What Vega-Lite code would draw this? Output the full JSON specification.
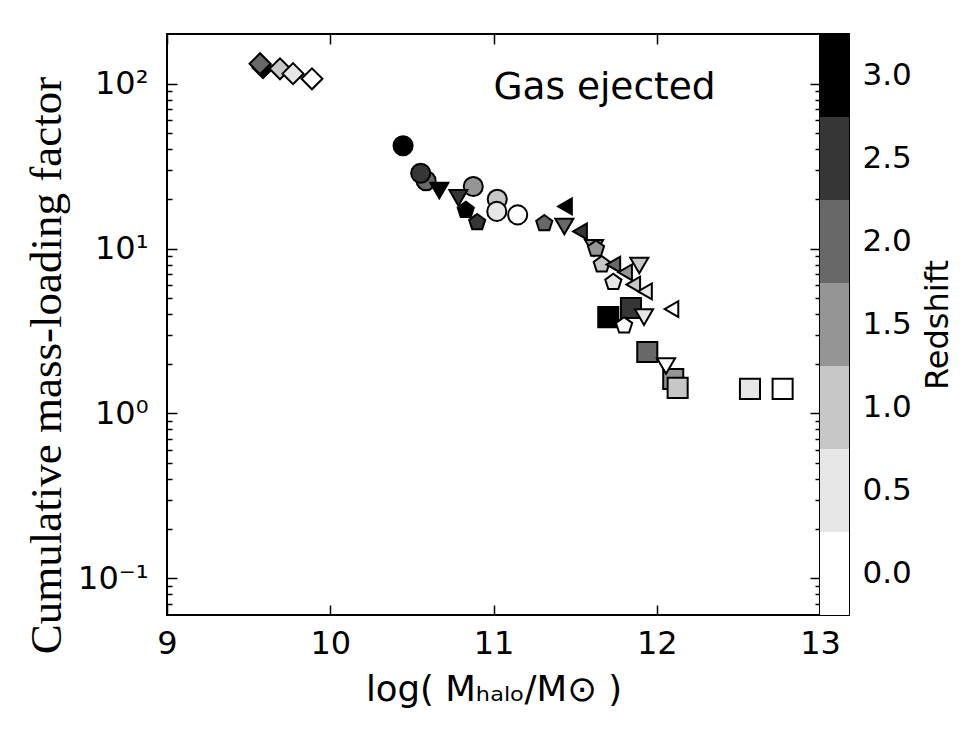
{
  "$schema": "https://vega.github.io/schema/vega-lite/v6.json",
  "background": "white",
  "padding": {"left": 23, "top": 32, "right": 5, "bottom": 5},
  "spacing": 0,
  "bounds": "flush",
  "config": {
    "view": {"stroke": "black", "strokeWidth": 2},
    "axis": {"domain": false, "grid": false, "tickColor": "black", "tickWidth": 1.5, "labelColor": "black", "titleColor": "black", "labelFont": "DejaVu Sans", "labelFontSize": 32, "titleFontWeight": "normal", "labelOverlap": false}
  },
  "hconcat": [
    {
      "width": 653,
      "height": 581,
      "layer": [
        {
          "data": {"values": [
            {"sim": "d", "z": 3.0, "logM": 9.588, "eta": 125},
            {"sim": "d", "z": 2.0, "logM": 9.570, "eta": 132},
            {"sim": "d", "z": 1.0, "logM": 9.692, "eta": 123},
            {"sim": "d", "z": 0.5, "logM": 9.772, "eta": 115},
            {"sim": "d", "z": 0.0, "logM": 9.888, "eta": 107},
            {"sim": "s", "z": 3.0, "logM": 11.703, "eta": 3.84},
            {"sim": "s", "z": 2.5, "logM": 11.842, "eta": 4.36},
            {"sim": "s", "z": 2.0, "logM": 11.942, "eta": 2.36},
            {"sim": "s", "z": 1.5, "logM": 12.101, "eta": 1.62},
            {"sim": "s", "z": 1.0, "logM": 12.128, "eta": 1.43},
            {"sim": "s", "z": 0.5, "logM": 12.571, "eta": 1.41},
            {"sim": "s", "z": 0.0, "logM": 12.771, "eta": 1.41},
            {"sim": "o", "z": 3.0, "logM": 10.446, "eta": 42},
            {"sim": "o", "z": 2.0, "logM": 10.587, "eta": 25.8},
            {"sim": "o", "z": 2.5, "logM": 10.554, "eta": 28.6},
            {"sim": "o", "z": 1.5, "logM": 10.876, "eta": 23.8},
            {"sim": "o", "z": 1.0, "logM": 11.023, "eta": 19.9},
            {"sim": "o", "z": 0.5, "logM": 11.02, "eta": 16.8},
            {"sim": "o", "z": 0.0, "logM": 11.148, "eta": 16.0},
            {"sim": "v", "z": 3.0, "logM": 10.668, "eta": 22.5},
            {"sim": "v", "z": 2.5, "logM": 10.785, "eta": 20.3},
            {"sim": "v", "z": 2.0, "logM": 11.434, "eta": 13.6},
            {"sim": "v", "z": 1.5, "logM": 11.616, "eta": 10.1},
            {"sim": "v", "z": 1.0, "logM": 11.893, "eta": 7.9},
            {"sim": "v", "z": 0.5, "logM": 11.922, "eta": 3.84},
            {"sim": "v", "z": 0.0, "logM": 12.057, "eta": 1.94},
            {"sim": "p", "z": 3.0, "logM": 10.83, "eta": 17.1},
            {"sim": "p", "z": 2.5, "logM": 10.90, "eta": 14.4},
            {"sim": "p", "z": 2.0, "logM": 11.311, "eta": 14.2},
            {"sim": "p", "z": 1.5, "logM": 11.628, "eta": 9.96},
            {"sim": "p", "z": 1.0, "logM": 11.663, "eta": 8.0},
            {"sim": "p", "z": 0.5, "logM": 11.734, "eta": 6.25},
            {"sim": "p", "z": 0.0, "logM": 11.80, "eta": 3.41},
            {"sim": "l", "z": 3.0, "logM": 11.438, "eta": 18.0},
            {"sim": "l", "z": 2.5, "logM": 11.53, "eta": 12.7},
            {"sim": "l", "z": 2.0, "logM": 11.734, "eta": 8.0},
            {"sim": "l", "z": 1.5, "logM": 11.806, "eta": 7.18},
            {"sim": "l", "z": 1.0, "logM": 11.856, "eta": 6.05},
            {"sim": "l", "z": 0.5, "logM": 11.928, "eta": 5.5},
            {"sim": "l", "z": 0.0, "logM": 12.09, "eta": 4.3}
          ]},
          "mark": {"type": "point", "filled": true, "stroke": "black", "strokeWidth": 2, "opacity": 1},
          "encoding": {
            "x": {"field": "logM", "type": "quantitative",
                  "scale": {"domain": [9, 13], "nice": false, "zero": false},
                  "axis": {"orient": "bottom", "values": [9, 10, 11, 12, 13], "tickSize": -10, "labelPadding": 23, "labelFlush": false,
                           "title": "log( Mₕₐₗₒ/M⊙ )", "titleFont": "DejaVu Sans", "titleFontSize": 35.5, "titlePadding": 13}},
            "y": {"field": "eta", "type": "quantitative",
                  "scale": {"type": "log", "domain": [0.06, 200], "nice": false},
                  "axis": {"orient": "left",
                           "values": [0.07, 0.08, 0.09, 0.1, 0.2, 0.3, 0.4, 0.5, 0.6, 0.7, 0.8, 0.9, 1, 2, 3, 4, 5, 6, 7, 8, 9, 10, 20, 30, 40, 50, 60, 70, 80, 90, 100],
                           "tickSize": {"condition": {"test": "datum.value===0.1||datum.value===1||datum.value===10||datum.value===100", "value": -10}, "value": -5},
                           "labelExpr": "datum.value===100?'10²':datum.value===10?'10¹':datum.value===1?'10⁰':datum.value===0.1?'10⁻¹':''",
                           "labelPadding": 29,
                           "title": "Cumulative mass-loading factor", "titleFont": "Liberation Serif", "titleFontSize": 45, "titlePadding": 8, "titleY": 331}},
            "shape": {"field": "sim", "type": "nominal",
                      "scale": {"domain": ["d", "s", "o", "v", "p", "l"],
                                "range": ["diamond", "square", "circle", "triangle-down", "M0,-1L0.951,-0.309L0.588,0.809L-0.588,0.809L-0.951,-0.309Z", "triangle-left"]},
                      "legend": null},
            "size": {"field": "sim", "type": "nominal",
                     "scale": {"domain": ["d", "s", "o", "v", "p", "l"], "range": [440, 250, 300, 310, 240, 310]},
                     "legend": null},
            "fill": {"field": "z", "type": "ordinal",
                     "scale": {"domain": [0, 0.5, 1, 1.5, 2, 2.5, 3], "range": ["#ffffff", "#e6e6e6", "#c7c7c7", "#959595", "#686868", "#363636", "#000000"]},
                     "legend": null}
          }
        },
        {
          "data": {"values": [{"label": "Gas ejected"}]},
          "mark": {"type": "text", "font": "DejaVu Sans", "fontSize": 37.5, "align": "center", "baseline": "alphabetic", "color": "black"},
          "encoding": {
            "text": {"field": "label"},
            "x": {"datum": 11.68, "type": "quantitative",
                  "scale": {"domain": [9, 13], "nice": false, "zero": false},
                  "axis": {"orient": "top", "values": [9, 10, 11, 12, 13], "tickSize": -10, "labels": false, "title": null, "minExtent": 0, "maxExtent": 0}},
            "y": {"datum": 81, "type": "quantitative",
                  "scale": {"type": "log", "domain": [0.06, 200], "nice": false},
                  "axis": {"orient": "right",
                           "values": [0.07, 0.08, 0.09, 0.1, 0.2, 0.3, 0.4, 0.5, 0.6, 0.7, 0.8, 0.9, 1, 2, 3, 4, 5, 6, 7, 8, 9, 10, 20, 30, 40, 50, 60, 70, 80, 90, 100],
                           "tickSize": {"condition": {"test": "datum.value===0.1||datum.value===1||datum.value===10||datum.value===100", "value": -10}, "value": -5},
                           "labels": false, "title": null, "minExtent": 0, "maxExtent": 0}}
          }
        }
      ],
      "resolve": {"scale": {"x": "shared", "y": "shared"}, "axis": {"x": "independent", "y": "independent"}}
    },
    {
      "width": 29,
      "height": 581,
      "data": {"values": [
        {"z": 0, "lo": -0.25, "hi": 0.25},
        {"z": 0.5, "lo": 0.25, "hi": 0.75},
        {"z": 1, "lo": 0.75, "hi": 1.25},
        {"z": 1.5, "lo": 1.25, "hi": 1.75},
        {"z": 2, "lo": 1.75, "hi": 2.25},
        {"z": 2.5, "lo": 2.25, "hi": 2.75},
        {"z": 3, "lo": 2.75, "hi": 3.25}
      ]},
      "mark": {"type": "rect"},
      "encoding": {
        "x": {"value": 0},
        "x2": {"value": "width"},
        "y": {"field": "lo", "type": "quantitative",
              "scale": {"domain": [-0.25, 3.25], "nice": false, "zero": false},
              "axis": {"orient": "right", "values": [0, 0.5, 1, 1.5, 2, 2.5, 3], "format": ".1f", "tickSize": -10, "labelPadding": 23,
                       "labelFontSize": 31, "title": "Redshift", "titleAngle": 270, "titleFont": "DejaVu Sans", "titleFontSize": 32, "titlePadding": 43}},
        "y2": {"field": "hi"},
        "fill": {"field": "z", "type": "ordinal",
                 "scale": {"domain": [0, 0.5, 1, 1.5, 2, 2.5, 3], "range": ["#ffffff", "#e6e6e6", "#c7c7c7", "#959595", "#686868", "#363636", "#000000"]},
                 "legend": null}
      }
    }
  ]
}
